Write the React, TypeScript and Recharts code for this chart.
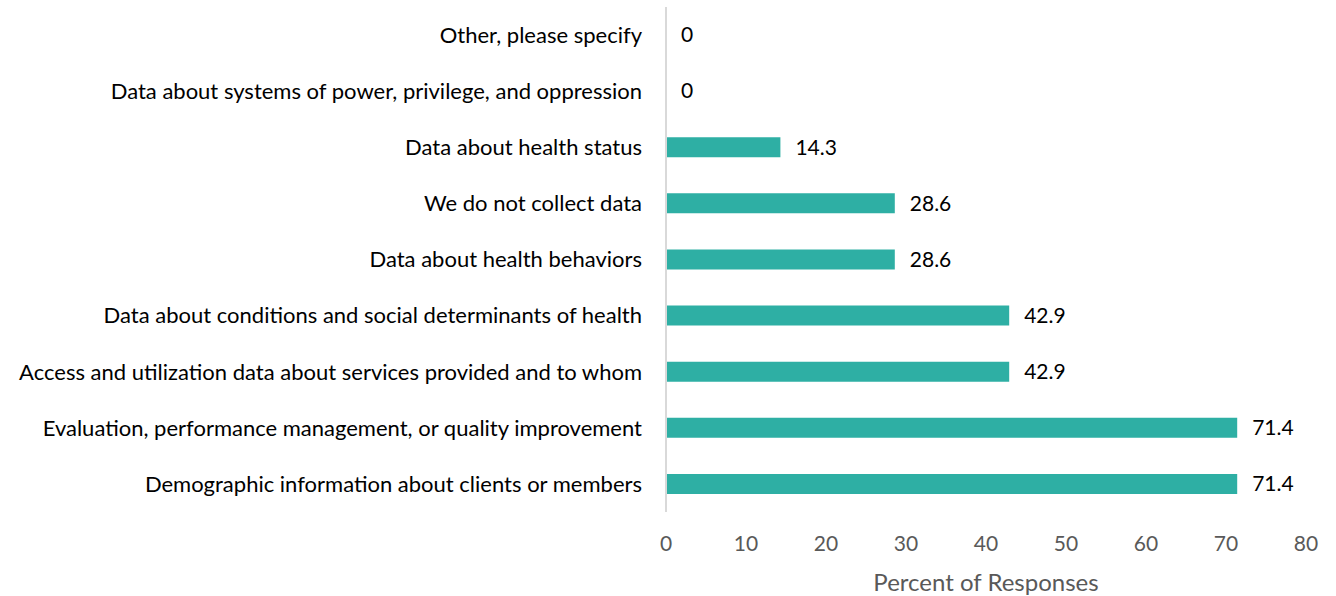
import React from "react";
import { BarChart, Bar, XAxis, YAxis, LabelList } from "recharts";

const categories = [
  "Other, please specify",
  "Data about systems of power, privilege, and oppression",
  "Data about health status",
  "We do not collect data",
  "Data about health behaviors",
  "Data about conditions and social determinants of health",
  "Access and utilization data about services provided and to whom",
  "Evaluation, performance management, or quality improvement",
  "Demographic information about clients or members",
];
const values = [0, 0, 14.3, 28.6, 28.6, 42.9, 42.9, 71.4, 71.4];
const xTicks = [0, 10, 20, 30, 40, 50, 60, 70, 80];

const data = categories.map((c, i) => ({ name: c, value: values[i] }));

const font = "Lato, 'Open Sans', sans-serif";

const ValueLabel = (props: any) => {
  const { x, y, width, height, value } = props;
  const w = Number(value) === 0 ? 0 : Number(width || 0);
  const xx = Number(x) + w + 15;
  const yy = Number(y) + Number(height) / 2;
  return (
    <text x={xx} y={yy} dy="0.35em" fill="#000" fontSize={21} fontFamily={font} textAnchor="start">
      {String(value)}
    </text>
  );
};

export default function App() {
  return (
    <div style={{ position: "absolute", left: 0, top: 0, width: 1336, height: 596, background: "#fff" }}>
      <BarChart
        width={1336}
        height={596}
        data={data}
        layout="vertical"
        margin={{ top: 7, right: 30, bottom: 0, left: 0 }}
        style={{ fontFamily: font }}
      >
        <XAxis
          type="number"
          domain={[0, 80]}
          ticks={xTicks}
          axisLine={false}
          tickLine={false}
          tickSize={0}
          tickMargin={24}
          height={84}
          tick={{ fill: "#595959", fontSize: 21, fontFamily: font }}
          label={{ value: "Percent of Responses", position: "insideBottom", offset: 5, fill: "#595959", fontSize: 24, fontFamily: font }}
        />
        <YAxis
          type="category"
          dataKey="name"
          width={666}
          axisLine={{ stroke: "#D9D9D9", strokeWidth: 2 }}
          tickLine={false}
          tickSize={0}
          tickMargin={24}
          interval={0}
          tick={{ fill: "#000", fontSize: 22, fontFamily: font }}
        />
        <Bar dataKey="value" fill="#2EAFA4" barSize={20} minPointSize={0.01} isAnimationActive={false}>
          <LabelList dataKey="value" content={ValueLabel} />
        </Bar>
      </BarChart>
    </div>
  );
}
